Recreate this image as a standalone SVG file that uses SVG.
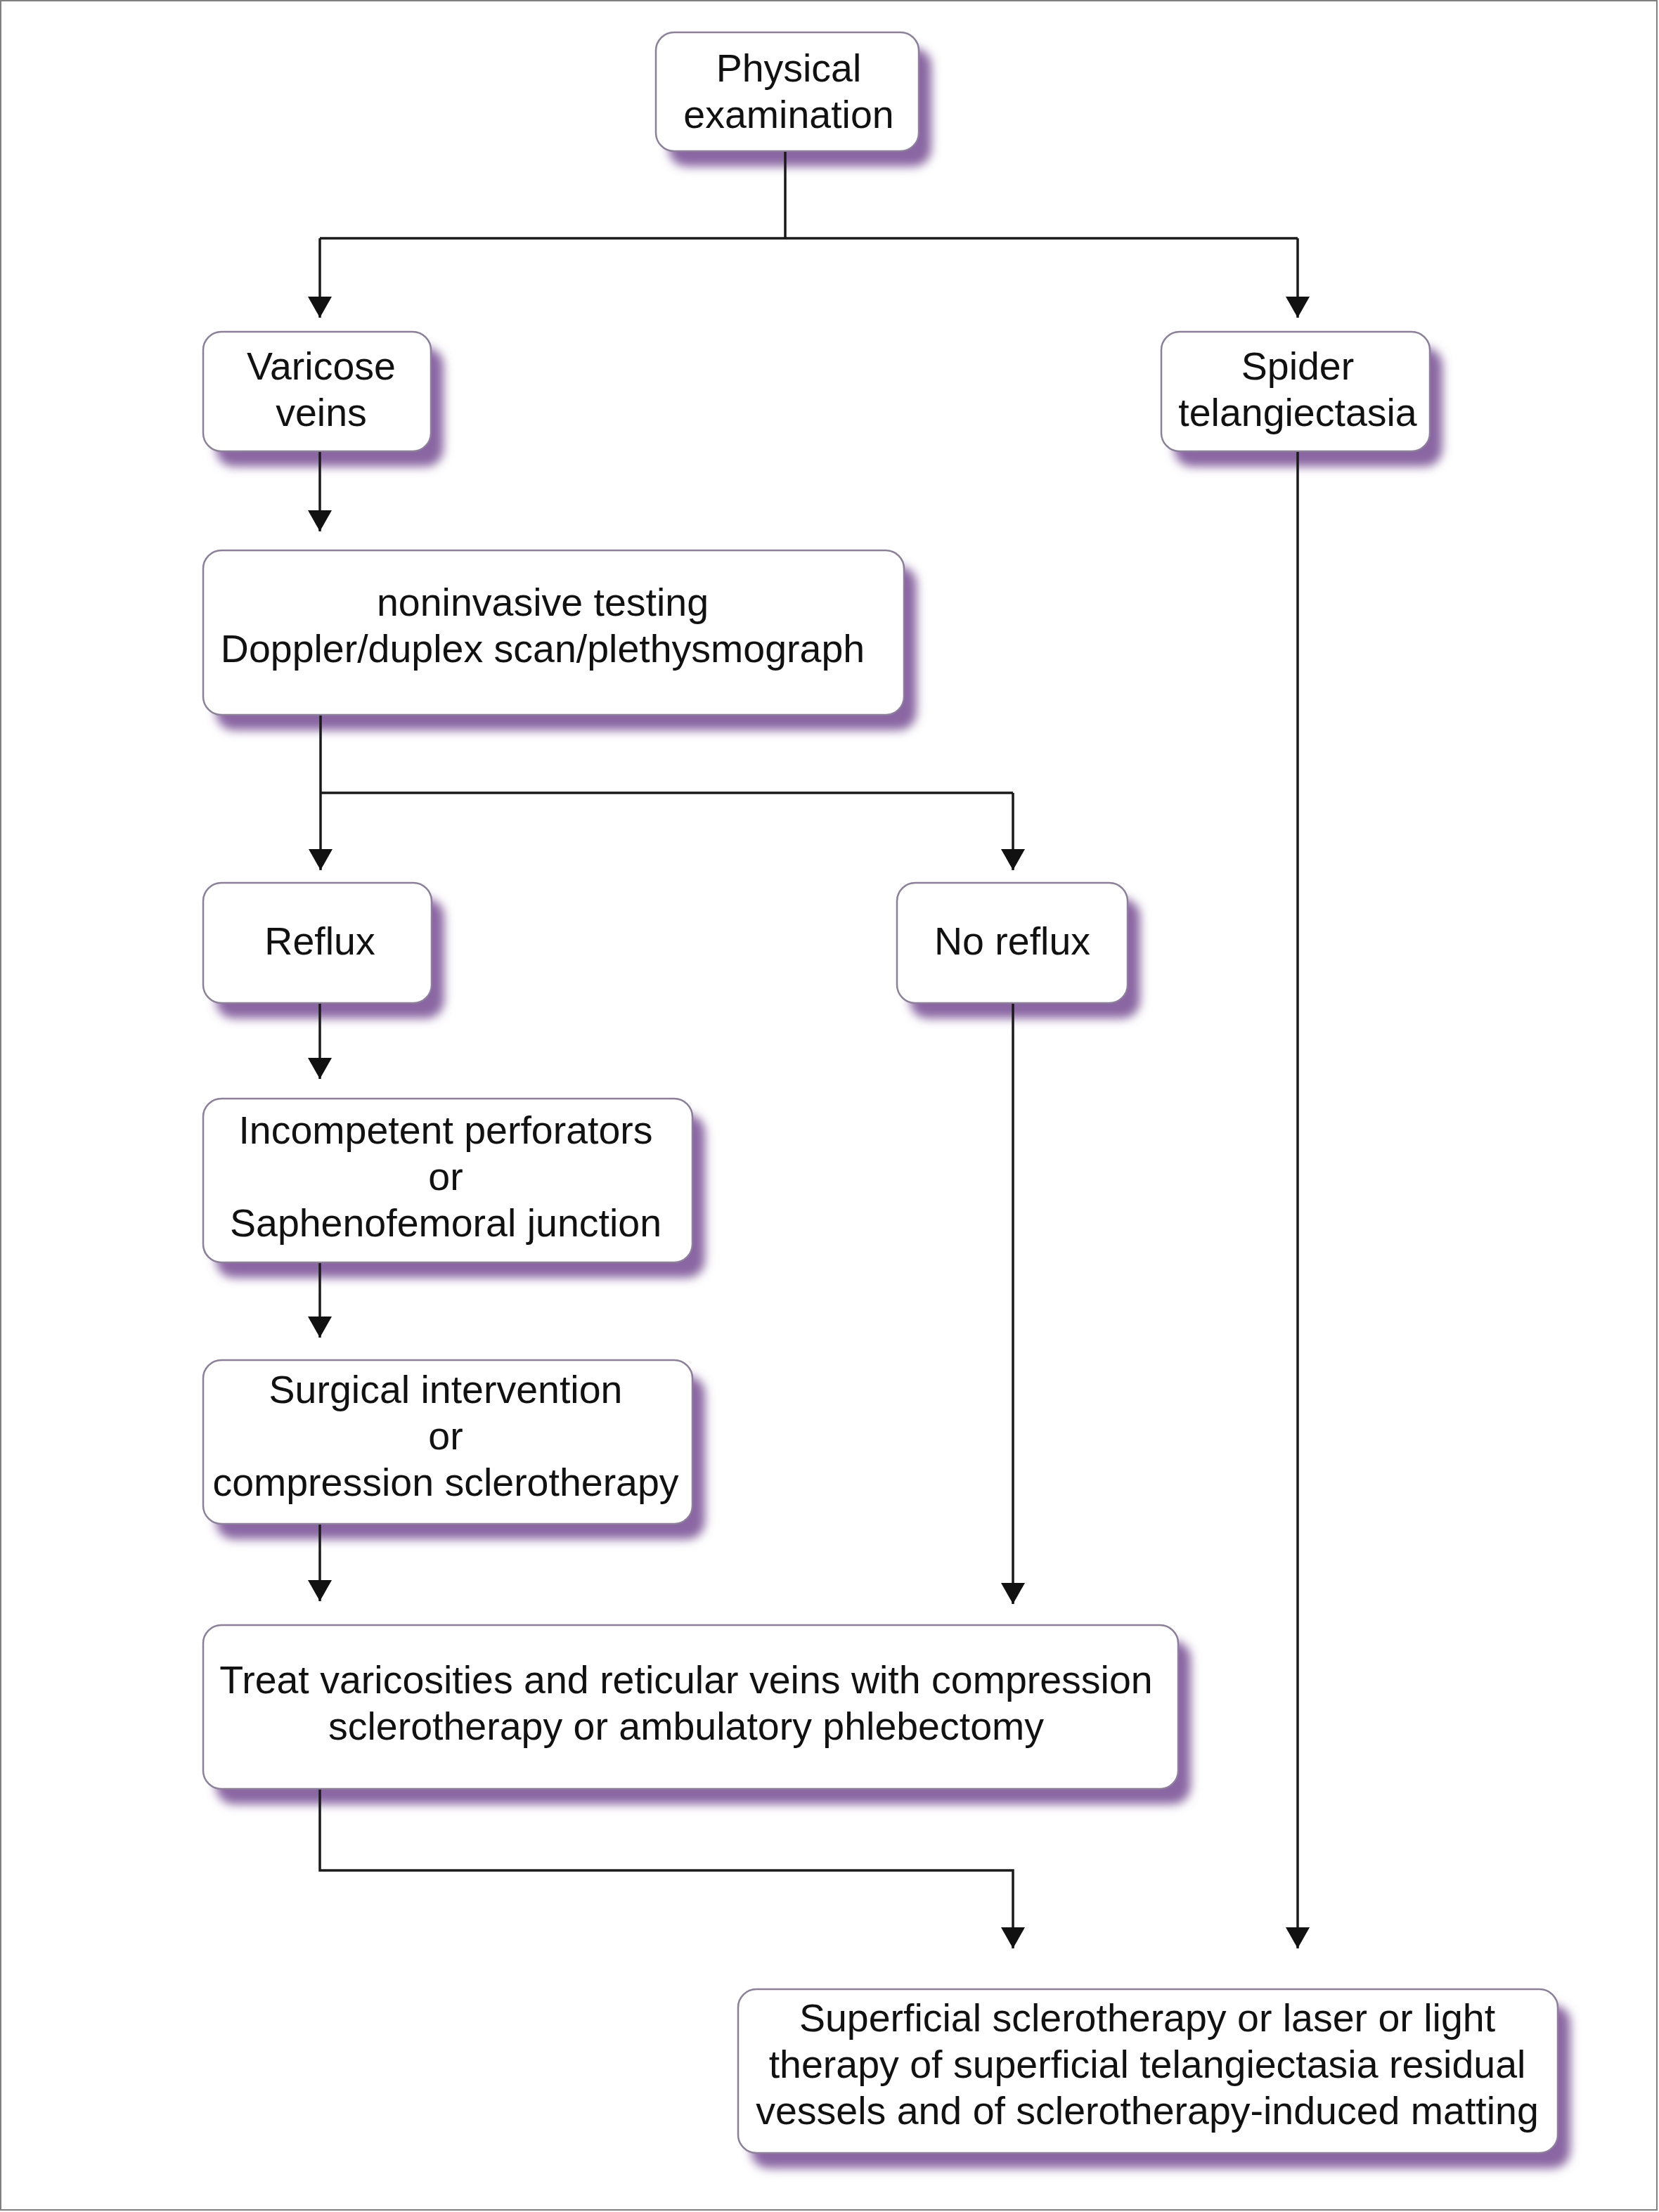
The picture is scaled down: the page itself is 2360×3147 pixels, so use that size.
<svg xmlns="http://www.w3.org/2000/svg" width="2360" height="3147" viewBox="0 0 2360 3147">
<defs>
<style>
.box{fill:#ffffff;stroke:#8c7f98;stroke-width:2.5}
.shadow{fill:#8a66a3;filter:url(#blur)}
.t{font-family:"Liberation Sans",Arial,Helvetica,sans-serif;font-size:55.5px;fill:#111111;text-anchor:middle}
.c{fill:none;stroke:#1a1a1a;stroke-width:3.5}
</style>
<filter id="blur" x="-10%" y="-20%" width="120%" height="140%">
<feGaussianBlur stdDeviation="7"/>
</filter>
<marker id="ah" markerUnits="userSpaceOnUse" markerWidth="32" markerHeight="36" refX="30" refY="17" orient="auto">
<path d="M0,0 L30,17 L0,34 Z" fill="#111111"/>
</marker>
</defs>
<rect x="0" y="0" width="2360" height="3147" fill="#ffffff"/>
<rect x="1" y="1" width="2356" height="3143" fill="none" stroke="#808080" stroke-width="2"/>

<g id="n-physical">
<rect class="shadow" x="951" y="68" width="374" height="169" rx="26"/>
<rect class="box" x="933" y="46" width="374" height="169" rx="26"/>
<text class="t" x="1122" y="116">Physical</text>
<text class="t" x="1122" y="182">examination</text>
</g>

<g id="n-varicose">
<rect class="shadow" x="307" y="494" width="324" height="170" rx="26"/>
<rect class="box" x="289" y="472" width="324" height="170" rx="26"/>
<text class="t" x="457" y="540">Varicose</text>
<text class="t" x="457" y="606">veins</text>
</g>

<g id="n-spider">
<rect class="shadow" x="1670" y="494" width="382" height="170" rx="26"/>
<rect class="box" x="1652" y="472" width="382" height="170" rx="26"/>
<text class="t" x="1846" y="540">Spider</text>
<text class="t" x="1846" y="606">telangiectasia</text>
</g>

<g id="n-noninvasive">
<rect class="shadow" x="307" y="805" width="997" height="234" rx="26"/>
<rect class="box" x="289" y="783" width="997" height="234" rx="26"/>
<text class="t" x="772" y="876">noninvasive testing</text>
<text class="t" x="772" y="942">Doppler/duplex scan/plethysmograph</text>
</g>

<g id="n-reflux">
<rect class="shadow" x="307" y="1278" width="325" height="171" rx="26"/>
<rect class="box" x="289" y="1256" width="325" height="171" rx="26"/>
<text class="t" x="455" y="1358">Reflux</text>
</g>

<g id="n-noreflux">
<rect class="shadow" x="1294" y="1278" width="328" height="171" rx="26"/>
<rect class="box" x="1276" y="1256" width="328" height="171" rx="26"/>
<text class="t" x="1440" y="1358">No reflux</text>
</g>

<g id="n-incompetent">
<rect class="shadow" x="307" y="1585" width="696" height="233" rx="26"/>
<rect class="box" x="289" y="1563" width="696" height="233" rx="26"/>
<text class="t" x="634" y="1627">Incompetent perforators</text>
<text class="t" x="634" y="1693">or</text>
<text class="t" x="634" y="1759">Saphenofemoral junction</text>
</g>

<g id="n-surgical">
<rect class="shadow" x="307" y="1957" width="696" height="233" rx="26"/>
<rect class="box" x="289" y="1935" width="696" height="233" rx="26"/>
<text class="t" x="634" y="1996">Surgical intervention</text>
<text class="t" x="634" y="2062">or</text>
<text class="t" x="634" y="2128">compression sclerotherapy</text>
</g>

<g id="n-treat">
<rect class="shadow" x="307" y="2334" width="1387" height="233" rx="26"/>
<rect class="box" x="289" y="2312" width="1387" height="233" rx="26"/>
<text class="t" x="976" y="2409">Treat varicosities and reticular veins with compression</text>
<text class="t" x="976" y="2475">sclerotherapy or ambulatory phlebectomy</text>
</g>

<g id="n-superficial">
<rect class="shadow" x="1068" y="2852" width="1166" height="233" rx="26"/>
<rect class="box" x="1050" y="2830" width="1166" height="233" rx="26"/>
<text class="t" x="1632" y="2890">Superficial sclerotherapy or laser or light</text>
<text class="t" x="1632" y="2956">therapy of superficial telangiectasia residual</text>
<text class="t" x="1632" y="3022">vessels and of sclerotherapy-induced matting</text>
</g>

<g id="connectors">
<path class="c" d="M1117,216 V339 M455,339 H1846"/>
<path class="c" d="M455,339 V452" marker-end="url(#ah)"/>
<path class="c" d="M1846,339 V452" marker-end="url(#ah)"/>
<path class="c" d="M455,643 V756" marker-end="url(#ah)"/>
<path class="c" d="M456,1018 V1128 M456,1128 H1441"/>
<path class="c" d="M456,1128 V1238" marker-end="url(#ah)"/>
<path class="c" d="M1441,1128 V1238" marker-end="url(#ah)"/>
<path class="c" d="M455,1428 V1535" marker-end="url(#ah)"/>
<path class="c" d="M1441,1428 V2282" marker-end="url(#ah)"/>
<path class="c" d="M455,1797 V1903" marker-end="url(#ah)"/>
<path class="c" d="M455,2169 V2278" marker-end="url(#ah)"/>
<path class="c" d="M455,2546 V2661 H1441 V2772" marker-end="url(#ah)"/>
<path class="c" d="M1846,643 V2772" marker-end="url(#ah)"/>
</g>
</svg>
